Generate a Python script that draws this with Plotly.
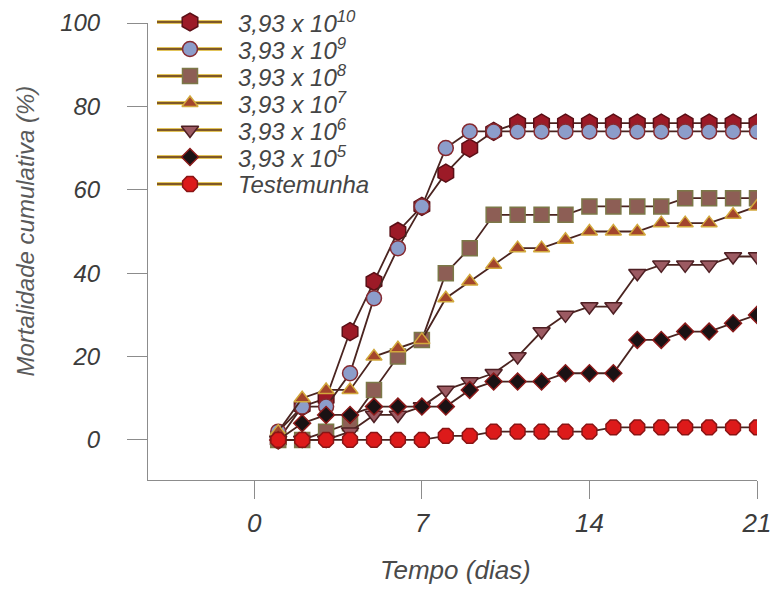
import plotly.graph_objects as go

# Days after treatment
days = list(range(1, 22))

# Cumulative mortality (%) per concentration (conidia/mL) and the control
series_names = [
    "3,93 x 10<sup>10</sup>",
    "3,93 x 10<sup>9</sup>",
    "3,93 x 10<sup>8</sup>",
    "3,93 x 10<sup>7</sup>",
    "3,93 x 10<sup>6</sup>",
    "3,93 x 10<sup>5</sup>",
    "Testemunha",
]
mort_1e10 = [0, 8, 10, 26, 38, 50, 56, 64, 70, 74, 76, 76, 76, 76, 76, 76, 76, 76, 76, 76, 76]
mort_1e9 = [2, 8, 8, 16, 34, 46, 56, 70, 74, 74, 74, 74, 74, 74, 74, 74, 74, 74, 74, 74, 74]
mort_1e8 = [0, 0, 2, 4, 12, 20, 24, 40, 46, 54, 54, 54, 54, 56, 56, 56, 56, 58, 58, 58, 58]
mort_1e7 = [2, 10, 12, 12, 20, 22, 24, 34, 38, 42, 46, 46, 48, 50, 50, 50, 52, 52, 52, 54, 56]
mort_1e6 = [0, 0, 0, 2, 6, 6, 8, 12, 14, 16, 20, 26, 30, 32, 32, 40, 42, 42, 42, 44, 44]
mort_1e5 = [0, 4, 6, 6, 8, 8, 8, 8, 12, 14, 14, 14, 16, 16, 16, 24, 24, 26, 26, 28, 30]
mort_control = [0, 0, 0, 0, 0, 0, 0, 1, 1, 2, 2, 2, 2, 2, 3, 3, 3, 3, 3, 3, 3]

x_ticks = [0, 7, 14, 21]
y_ticks = [0, 20, 40, 60, 80, 100]

all_series = [mort_1e10, mort_1e9, mort_1e8, mort_1e7, mort_1e6, mort_1e5, mort_control]

# marker styles: (symbol, size, fill, outline)
styles = [
    ("hexagon", 18, "#9c1a27", "#5a0f16"),
    ("circle", 15, "#8c9dca", "#862a30"),
    ("square", 15, "#8d5e55", "#7c7848"),
    ("triangle-up", 14, "#a3452c", "#d2a83c"),
    ("triangle-down", 15, "#9c5a62", "#4e1f23"),
    ("diamond", 13, "#1a1214", "#8b1a1a"),
    ("octagon", 16, "#dd1a1a", "#8a1414"),
]
LINE_COLOR = "#4a2420"
FONT = "Arial, Liberation Sans"

W, H = 775, 599
PL, PR, PT, PB = 148, 757, 23, 480  # plot area in page pixels


def paper_x(px):
    return (px - PL) / (PR - PL)


def paper_y(py):
    # paper spans page rows 0..PB (no top margin)
    return (PB - py) / PB


fig = go.Figure()

for name, vals, (sym, size, fill, edge) in zip(series_names, all_series, styles):
    fig.add_trace(go.Scatter(
        x=days, y=vals, name=name, mode="lines+markers",
        line=dict(color=LINE_COLOR, width=1.8),
        marker=dict(symbol=sym, size=size, color=fill,
                    line=dict(color=edge, width=1.5)),
        showlegend=False,
    ))

# Legend keys, placed in page-pixel coordinates on a full-paper axis pair
LEG_LINE_X0, LEG_LINE_X1, LEG_MARK_X, LEG_TEXT_X = 157, 222, 190, 236
LEG_ROW0, LEG_ROW_STEP = 22, 27
for i, (name, (sym, size, fill, edge)) in enumerate(zip(series_names, styles)):
    ry = LEG_ROW0 + i * LEG_ROW_STEP
    for col, wid in (("#e2c45a", 4), ("#5e3418", 1.6)):
        fig.add_shape(type="line", xref="paper", yref="paper",
                      x0=paper_x(LEG_LINE_X0), x1=paper_x(LEG_LINE_X1),
                      y0=paper_y(ry), y1=paper_y(ry),
                      line=dict(color=col, width=wid), layer="below")
    fig.add_trace(go.Scatter(
        x=[LEG_MARK_X], y=[ry], xaxis="x2", yaxis="y2", mode="markers",
        marker=dict(symbol=sym, size=size, color=fill,
                    line=dict(color=edge, width=1.5)),
        cliponaxis=False, showlegend=False, hoverinfo="skip",
    ))
    fig.add_annotation(
        x=paper_x(LEG_TEXT_X), y=paper_y(ry), xref="paper", yref="paper",
        text=name, showarrow=False, xanchor="left", yanchor="middle",
        font=dict(family=FONT, size=24, color="#454545", style="italic"),
    )

# Axis titles
fig.add_annotation(
    x=paper_x(25), y=50, xref="paper", yref="y",
    text="Mortalidade cumulativa (%)", textangle=-90, showarrow=False,
    xanchor="center", yanchor="middle",
    font=dict(family=FONT, size=24, color="#5a5a5a", style="italic"),
)
fig.add_annotation(
    x=paper_x(455), y=paper_y(570), xref="paper", yref="paper",
    text="Tempo (dias)", showarrow=False, xanchor="center", yanchor="middle",
    font=dict(family=FONT, size=26, color="#4a4a4a", style="italic"),
)

fig.update_layout(
    width=W, height=H,
    margin=dict(l=PL, r=W - PR, t=0, b=H - PB, autoexpand=False),
    paper_bgcolor="white", plot_bgcolor="rgba(0,0,0,0)",
    xaxis=dict(
        range=[-4.44, 21], tickvals=x_ticks, showgrid=False, zeroline=False,
        showline=True, linecolor="#8c8c8c", linewidth=1, automargin=False,
        ticks="outside", ticklen=18, tickcolor="#8c8c8c", tickwidth=1,
        ticklabelstandoff=2,
        tickfont=dict(family=FONT, size=26, color="#3c3c3c", style="italic"),
    ),
    yaxis=dict(
        domain=[0, (PB - PT) / PB], automargin=False,
        range=[-9.6, 100], tickvals=y_ticks, showgrid=False, zeroline=False,
        showline=True, linecolor="#8c8c8c", linewidth=1,
        ticks="outside", ticklen=20, tickcolor="#8c8c8c", tickwidth=1,
        ticklabelstandoff=22,
        tickfont=dict(family=FONT, size=24, color="#3c3c3c", style="italic"),
    ),
    xaxis2=dict(anchor="y2", domain=[0, 1], range=[PL, PR], visible=False,
                automargin=False, fixedrange=True),
    yaxis2=dict(anchor="x2", domain=[0, 1], range=[PB, 0],
                visible=False, automargin=False, fixedrange=True),
)

fig.write_html("out.html")
